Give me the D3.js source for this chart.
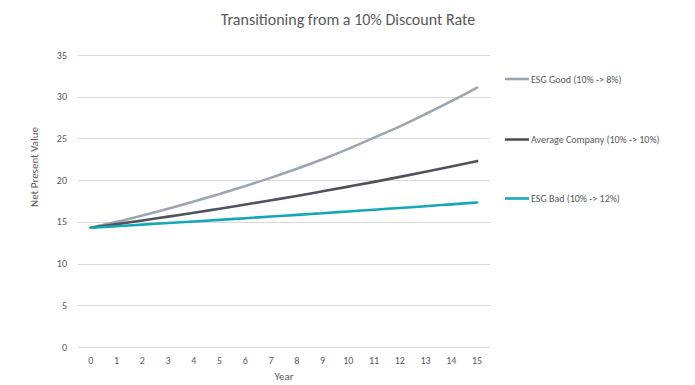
<!DOCTYPE html>
<html><head><meta charset="utf-8">
<script src="https://cdn.jsdelivr.net/npm/d3@7"></script>
<style>body{margin:0;background:#fff;} text{font-family:Calibri,Carlito,"Open Sans",sans-serif;}</style>
</head><body>
<svg id="c" width="695" height="385"></svg>
<script>
const years = [0,1,2,3,4,5,6,7,8,9,10,11,12,13,14,15];
const esgGood = [14.3,15.0,15.77,16.58,17.44,18.34,19.3,20.3,21.37,22.5,23.75,25.1,26.45,27.93,29.47,31.1];
const average = [14.3,14.73,15.17,15.63,16.09,16.58,17.07,17.59,18.11,18.66,19.22,19.79,20.39,21.0,21.63,22.28];
const esgBad = [14.3,14.48,14.67,14.86,15.05,15.24,15.44,15.64,15.84,16.04,16.25,16.46,16.67,16.88,17.1,17.32];
const yTicks = [0,5,10,15,20,25,30,35];
const seriesNames = ["ESG Good (10% -> 8%)","Average Company (10% -> 10%)","ESG Bad (10% -> 12%)"];
const seriesColors = ["#9da5b1","#50535c","#14a8b4"];
const seriesData = [esgGood, average, esgBad];

const svg = d3.select("#c");
const L=78, R=490, T=55, B=347;
const x = d3.scaleBand().domain(years).range([L,R]);
const y = d3.scaleLinear().domain([0,35]).range([B,T]);

svg.append("text").attr("x",348).attr("y",25).attr("text-anchor","middle")
  .attr("font-size",16).attr("fill","#595959").text("Transitioning from a 10% Discount Rate");

svg.append("g").selectAll("line").data(yTicks).join("line")
  .attr("x1",L).attr("x2",R).attr("y1",d=>Math.round(y(d))+0.5).attr("y2",d=>Math.round(y(d))+0.5)
  .attr("stroke","#d9d9d9").attr("stroke-width",1);

svg.append("g").selectAll("text").data(yTicks).join("text")
  .attr("x",67).attr("y",d=>y(d)).attr("dy","0.35em").attr("text-anchor","end")
  .attr("font-size",10).attr("fill","#595959").text(d=>d);

svg.append("g").selectAll("text").data(years).join("text")
  .attr("x",d=>x(d)+x.bandwidth()/2).attr("y",360).attr("dy","0.35em").attr("text-anchor","middle")
  .attr("font-size",10).attr("fill","#595959").text(d=>d);

svg.append("text").attr("x",284).attr("y",380).attr("text-anchor","middle")
  .attr("font-size",11).attr("fill","#595959").text("Year");

svg.append("text").attr("transform","translate(38,167) rotate(-90)").attr("text-anchor","middle")
  .attr("font-size",11).attr("fill","#595959").text("Net Present Value");

const line = d3.line().x((d,i)=>x(years[i])+x.bandwidth()/2).y(d=>y(d)).curve(d3.curveMonotoneX);
seriesData.forEach((s,k)=>{
  svg.append("path").datum(s).attr("d",line).attr("fill","none")
    .attr("stroke",seriesColors[k]).attr("stroke-width",2.6).attr("stroke-linecap","round");
});

const legY = [79,139.5,198.5];
seriesNames.forEach((n,k)=>{
  svg.append("line").attr("x1",505).attr("x2",529).attr("y1",legY[k]).attr("y2",legY[k])
    .attr("stroke",seriesColors[k]).attr("stroke-width",2.6);
  svg.append("text").attr("x",531).attr("y",legY[k]).attr("dy","0.35em")
    .attr("font-size",10).attr("fill","#595959").text(n);
});
</script>
</body></html>
